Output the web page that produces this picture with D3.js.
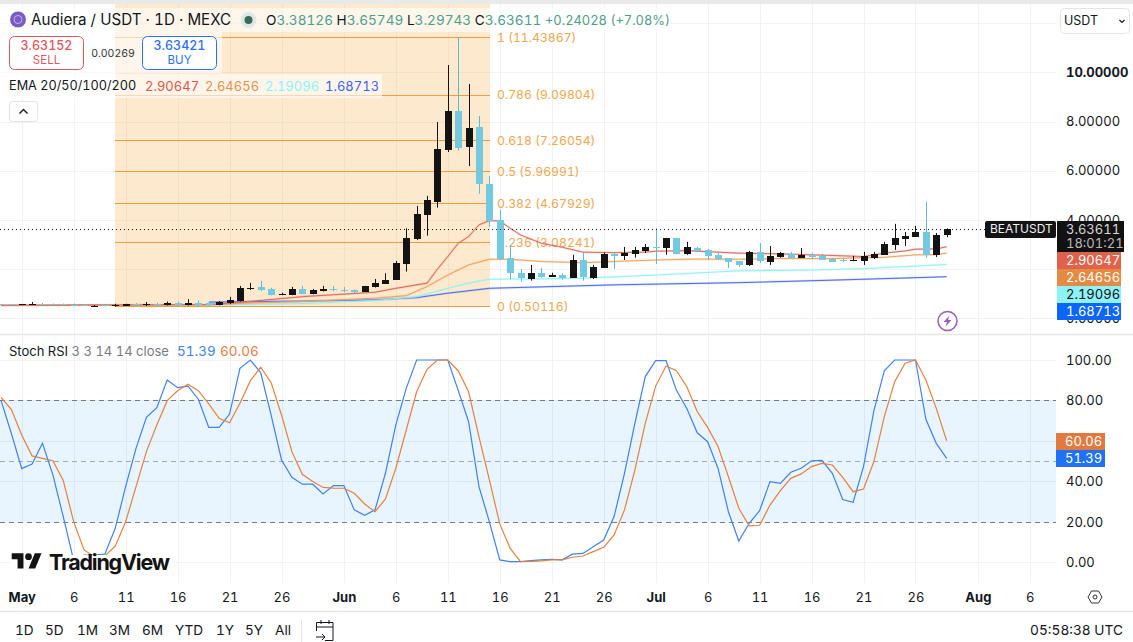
<!DOCTYPE html>
<html><head><meta charset="utf-8">
<script src="https://cdn.jsdelivr.net/npm/d3@7/dist/d3.min.js"></script>
<style>
html,body{margin:0;padding:0;background:#fff;overflow:hidden}
svg{display:block}
text{font-family:Inter,"Noto Sans",sans-serif;font-variant-numeric:tabular-nums}
</style></head><body>
<script>
// ---- data (first candle = 29 Apr) ----
const firstDate = "2025-04-29";
const opens  = [.57,.57,.55,.56,.58,.58,.57,.56,.555,.47,.535,.48,.51,.58,.52,.57,.54,.62,.55,.63,.62,.55,.61,.707,1.24,1.276,1.195,.95,.95,1.195,.99,1.11,1.195,1.154,1.15,1.07,1.27,1.40,1.56,2.21,3.22,4.20,4.73,6.85,8.43,6.98,7.78,5.46,4.0,2.44,1.83,1.60,1.83,1.68,1.76,1.64,2.37,1.66,2.05,2.63,2.54,2.62,2.74,2.88,2.86,3.27,2.62,2.86,2.78,2.58,2.45,2.33,2.17,2.70,2.29,2.50,2.62,2.46,2.58,2.54,2.41,2.37,2.33,2.33,2.46,2.58,2.98,3.22,3.31,3.51,2.58,3.38126];
const highs  = [.58,.58,.58,.66,.62,.60,.60,.60,.57,.54,.55,.59,.59,.62,.66,.64,.68,.68,.78,.72,.70,.70,.87,1.317,1.44,1.52,1.24,1.04,1.276,1.317,1.195,1.317,1.317,1.276,1.17,1.317,1.60,1.83,2.33,3.66,4.57,4.98,7.98,10.30,11.43,9.53,8.23,5.79,4.41,2.98,2.0,2.17,2.04,1.85,1.83,2.58,2.71,2.17,2.67,2.67,2.90,2.90,3.02,3.66,3.27,3.27,3.11,2.90,2.82,2.70,2.45,2.33,2.74,3.06,2.94,2.70,2.70,2.86,2.66,2.62,2.46,2.46,2.54,2.70,2.70,3.11,3.84,3.51,3.76,4.73,3.47,3.65749];
const lows   = [.54,.54,.54,.55,.54,.54,.54,.54,.53,.46,.48,.47,.50,.50,.50,.50,.52,.52,.52,.52,.52,.53,.58,.68,1.15,1.10,.93,.94,.94,.98,.98,1.09,1.10,1.06,1.03,1.07,1.25,1.40,1.56,1.90,3.18,3.36,4.50,6.76,6.82,6.19,5.07,3.72,2.40,1.59,1.49,1.53,1.65,1.68,1.57,1.64,1.53,1.60,2.05,2.01,2.37,2.47,2.66,2.21,2.58,2.60,2.58,2.70,2.37,2.37,2.05,2.09,2.13,2.25,2.17,2.46,2.46,2.46,2.41,2.37,2.29,2.29,2.32,2.17,2.41,2.58,2.78,2.94,3.31,2.46,2.49,3.29743];
const closes = [.55,.55,.57,.575,.55,.55,.555,.55,.54,.50,.48,.54,.58,.52,.57,.52,.62,.55,.62,.56,.55,.667,.748,1.236,1.25,1.14,.95,1.0,1.195,.99,1.154,1.195,1.14,1.11,1.07,1.317,1.44,1.56,2.24,3.26,4.24,4.81,6.89,8.43,6.94,7.74,5.48,3.96,2.40,1.83,1.63,1.83,1.68,1.76,1.64,2.37,1.68,2.09,2.62,2.55,2.67,2.78,2.90,2.86,3.27,2.62,2.90,2.74,2.55,2.41,2.29,2.17,2.70,2.33,2.54,2.66,2.46,2.58,2.50,2.37,2.29,2.33,2.36,2.54,2.62,3.02,3.27,3.35,3.51,2.58,3.39,3.63611];

// EMA lines: day offsets from 1 May and values read at those days
const ema20Days  = [-2,18,21,27,34,36,39,40,41,42,43,44,45,46,47,48,50,52,54,57,60,61,64,66,69,73,76,79,81,83,85,86,88,89];
const ema20Vals  = [.53,.56,.65,.88,1.06,1.22,1.43,2.0,2.51,3.05,3.32,3.80,3.97,3.96,3.66,3.39,3.05,2.89,2.69,2.67,2.69,2.73,2.75,2.71,2.65,2.62,2.58,2.54,2.51,2.65,2.74,2.81,2.82,2.91];
const ema50Days  = [-2,18,21,27,34,37,39,41,43,45,47,50,54,57,61,65,69,73,78,81,83,86,88,89];
const ema50Vals  = [.52,.55,.61,.68,.82,.92,1.29,1.76,2.17,2.40,2.40,2.31,2.26,2.31,2.37,2.41,2.40,2.43,2.43,2.46,2.48,2.58,2.59,2.65];
const ema100Days = [-2,18,27,34,38,41,43,45,50,54,61,69,76,81,89];
const ema100Vals = [.53,.54,.60,.72,.88,1.22,1.43,1.59,1.60,1.63,1.76,1.93,1.96,2.02,2.19];
const ema200Days = [18,27,34,38,41,45,57,69,78,89];
const ema200Vals = [.66,.70,.75,.84,1.02,1.22,1.36,1.45,1.55,1.69];

const stochK = [80.2,63.8,46.3,48.6,58.8,43.2,22.6,1,3.6,3.6,4,16.8,37.4,56.3,71.7,76.4,90.1,86.3,87.1,80.6,66.7,66.7,73.3,95.9,100,93.7,72.8,50.6,42,38.6,38.6,33.8,37.9,37.9,25.9,23.2,25.9,44,67.9,86,100,100,100,100,85,69.5,37.4,20,1.2,.3,.3,.8,1.2,1.5,1.2,4,4.4,7.7,11,22.6,44,68.7,91.8,99.7,99.7,85,76,64,59.6,46.5,25,10.5,19.3,25.5,39.9,39,44.5,46.5,50.2,50.4,44,31,29.7,47.3,75,94.6,100,100,100,70.7,58.8,51.39];
const stochD = [81.5,75.6,62.9,52.6,51.4,50.2,40.4,20.1,6.1,2.8,3.1,8,20,37.4,54.7,67.9,79.9,84.8,88,84.8,78.3,71.2,69,78.6,89.8,96.4,88.8,72.8,54.7,43.5,39.9,37,36.7,36.6,34.1,28.8,25,31.3,46.5,65.4,84.3,95.4,100,100,94.7,84.3,62,40.7,19,6.9,.3,.5,.7,1.2,1.2,2.5,3.1,5.3,7.4,13.5,25.9,45.6,68.7,87.1,97,94.7,86.8,74.5,66.7,57.2,42.3,26.7,18,18.3,28.3,35.4,41.5,43.7,47.3,48.9,48.1,42,34.9,36.2,49.8,72,89.3,98.4,100,90.1,76.1,60.06];

const fibRatios = ["1","0.786","0.618","0.5","0.382","0.236","0"];
const fibLevels = [11.43867,9.09804,7.26054,5.96991,4.67929,3.08241,0.50116];
const priceTicks = [0,2,4,6,8,10,12];
const stochTicks = [0,20,40,60,80,100];
const timeTicks = ["2025-05-01","2025-05-06","2025-05-11","2025-05-16","2025-05-21","2025-05-26","2025-06-01","2025-06-06","2025-06-11","2025-06-16","2025-06-21","2025-06-26","2025-07-01","2025-07-06","2025-07-11","2025-07-16","2025-07-21","2025-07-26","2025-08-01","2025-08-06"];
const ranges = ["1D","5D","1M","3M","6M","YTD","1Y","5Y","All"];
const rangeX = [15,45,77,109,142,175,216,245,275];
const emaLegend = ["2.90647","2.64656","2.19096","1.68713"];
const last = 3.63611;

// ---- layout ----
const W=1133,H=642, plotR=1056, mainTop=4, gridBot=583;
const C={up:"#131313",down:"#72c9e0",wickDown:"#5cb9d8",grid:"#f0f2f6",fib:"#ee9b42",fibText:"#eea74f",
  ema:["#e0695a","#efa35f","#8ef3f8","#4e6df0"],k:"#3f82ee",d:"#e5803f"};
const day=86400000;
const parse=s=>new Date(s+"T00:00:00Z");
const x=d3.scaleUtc().domain([parse("2025-05-01"),parse("2025-08-06")]).range([21.7,1029.8]);
const xDay=n=>x(new Date(parse("2025-05-01").getTime()+n*day));
const xIdx=i=>xDay(i-2);
const y=d3.scaleLinear().domain([0,12]).range([318.3,23.2]);
const yS=d3.scaleLinear().domain([0,100]).range([562.3,360]);
const px=v=>Math.round(v)+.5;

const svg=d3.select("body").append("svg").attr("width",W).attr("height",H).attr("viewBox",`0 0 ${W} ${H}`);
svg.append("rect").attr("width",W).attr("height",H).attr("fill","#fff");
svg.append("rect").attr("width",W).attr("height",4).attr("fill","#e9e9e9");

// grids
const grid=svg.append("g").attr("stroke",C.grid).attr("stroke-width",1);
grid.selectAll(".v").data(timeTicks).join("line").attr("class","v")
  .attr("x1",d=>px(x(parse(d)))).attr("x2",d=>px(x(parse(d)))).attr("y1",mainTop).attr("y2",gridBot);
grid.selectAll(".h").data(priceTicks).join("line").attr("class","h")
  .attr("x1",0).attr("x2",plotR).attr("y1",d=>px(y(d))).attr("y2",d=>px(y(d)));
grid.selectAll(".s").data(stochTicks).join("line").attr("class","s")
  .attr("x1",0).attr("x2",plotR).attr("y1",d=>px(yS(d))).attr("y2",d=>px(yS(d)));

// fib box
const fibL=115,fibR=490;
svg.append("rect").attr("x",fibL).attr("y",mainTop).attr("width",fibR-fibL).attr("height",y(fibLevels[6])-mainTop+.5)
  .attr("fill","#f2a63c").attr("fill-opacity",.25);
const fib=svg.append("g");
fib.selectAll("line").data(fibLevels).join("line").attr("x1",fibL).attr("x2",fibR)
  .attr("y1",d=>px(y(d))).attr("y2",d=>px(y(d))).attr("stroke",C.fib).attr("stroke-width",1);
fib.selectAll("text").data(fibLevels).join("text").attr("x",497).attr("y",d=>y(d)+1.6)
  .attr("dominant-baseline","middle").attr("font-size",12.2).attr("fill",C.fibText)
  .text((d,i)=>`${fibRatios[i]} (${d.toFixed(5)})`);

// EMA lines
function ema(days,vals,color){
  const l=d3.line().x((d,i)=>xDay(days[i])).y(d=>y(d));
  svg.append("path").attr("d",l(vals)).attr("fill","none").attr("stroke",color).attr("stroke-width",2.2).attr("stroke-opacity",.25);
  svg.append("path").attr("d",l(vals)).attr("fill","none").attr("stroke",color).attr("stroke-width",1);
}
ema(ema200Days,ema200Vals,C.ema[3]);
ema(ema100Days,ema100Vals,C.ema[2]);
ema(ema50Days,ema50Vals,C.ema[1]);
ema(ema20Days,ema20Vals,C.ema[0]);

// candles
const cg=svg.append("g");
opens.forEach((o,i)=>{
  const c=closes[i],up=c>=o,cx=Math.round(xIdx(i));
  cg.append("line").attr("x1",cx+.5).attr("x2",cx+.5).attr("y1",y(highs[i])).attr("y2",y(lows[i]))
    .attr("stroke",up?C.up:C.wickDown).attr("stroke-width",1);
  const top=Math.round(Math.min(y(o),y(c))),h=Math.max(1,Math.round(Math.abs(y(o)-y(c))));
  cg.append("rect").attr("x",cx-3).attr("width",7).attr("y",top).attr("height",h).attr("fill",up?C.up:C.down);
});

// last price dotted line
svg.append("line").attr("x1",0).attr("x2",985).attr("y1",px(y(last))).attr("y2",px(y(last)))
  .attr("stroke","#131313").attr("stroke-width",1).attr("stroke-dasharray","1 3");

// lightning icon
const li=svg.append("g").attr("transform","translate(947.5,321)");
li.append("circle").attr("r",9.5).attr("fill","#fff").attr("stroke","#9a5bb8").attr("stroke-width",1.5);
li.append("path").attr("d","M2 -5.5L-4 1H-0.5L-2 5.5L4 -1H0.5Z").attr("fill","#9a5bb8");

// Stoch RSI pane
svg.append("rect").attr("x",0).attr("width",plotR).attr("y",yS(80)).attr("height",yS(20)-yS(80)).attr("fill","#2196f3").attr("fill-opacity",.1);
[[80,"#787b86"],[50,"#a6a8b0"],[20,"#787b86"]].forEach(([v,c])=>{
  svg.append("line").attr("x1",0).attr("x2",plotR).attr("y1",px(yS(v))).attr("y2",px(yS(v)))
    .attr("stroke",c).attr("stroke-dasharray","5 4");
});
const sl=d3.line().x((d,i)=>xIdx(i)).y(d=>yS(d));
svg.append("path").attr("d",sl(stochK)).attr("fill","none").attr("stroke",C.k).attr("stroke-width",1.2);
svg.append("path").attr("d",sl(stochD)).attr("fill","none").attr("stroke",C.d).attr("stroke-width",1.2);

// separators
[334.5,611.5].forEach(v=>svg.append("line").attr("x1",0).attr("x2",W).attr("y1",v).attr("y2",v).attr("stroke","#e6e6e6").attr("stroke-width",1.4));

// axes
const tickStyle=g=>{g.select(".domain").remove();g.selectAll("text").attr("fill","#131722").attr("font-size",13).style("font-family","Inter");g.selectAll("line").remove();};
svg.append("g").attr("transform","translate(1066,0)")
  .call(d3.axisRight(y).tickValues(priceTicks.filter(d=>d<12)).tickSize(0).tickPadding(0).tickFormat(d3.format(".5f"))).call(tickStyle)
  .selectAll("text").attr("font-weight",d=>d===10?700:400);
svg.append("g").attr("transform","translate(1066,0)")
  .call(d3.axisRight(yS).tickValues(stochTicks).tickSize(0).tickPadding(0).tickFormat(d3.format(".2f"))).call(tickStyle);
const monthFmt=d3.utcFormat("%b"),dayFmt=d3.utcFormat("%-d");
svg.append("g").attr("transform","translate(0,593)")
  .call(d3.axisBottom(x).tickValues(timeTicks.map(parse)).tickSize(0).tickPadding(0).tickFormat(d=>d.getUTCDate()===1?monthFmt(d):dayFmt(d))).call(tickStyle)
  .selectAll("text").attr("font-weight",d=>d.getUTCDate()===1?700:400);

// right tags
function tag(xx,yy,w,h,bg,lines,fg){
  svg.append("rect").attr("x",xx).attr("y",yy).attr("width",w).attr("height",h).attr("fill",bg);
  lines.forEach(t=>svg.append("text").attr("x",xx+9).attr("y",yy+h/2+.6).attr("dominant-baseline","middle").attr("font-size",13).attr("fill",fg).text(t));
}
svg.append("rect").attr("x",985).attr("y",221).attr("width",71).attr("height",17).attr("fill","#131313").attr("rx",2);
svg.append("text").attr("x",990).attr("y",230).attr("dominant-baseline","middle").attr("font-size",12).attr("fill","#f0f0f0").text("BEATUSDT");
tag(1057,221,67,31,"#111",[],"#ddd");
svg.append("text").attr("x",1066).attr("y",230).attr("dominant-baseline","middle").attr("font-size",13).attr("fill","#d6d6d6").text(last.toFixed(5));
svg.append("text").attr("x",1066).attr("y",244).attr("dominant-baseline","middle").attr("font-size",13).attr("fill","#b8b8b8").text("18:01:21");
tag(1057,252,64,17,"#e0624a",[emaLegend[0]],"#fff");
tag(1057,269,64,17,"#e58a43",[emaLegend[1]],"#fff");
tag(1057,286,64,17,"#8ef3f8",[emaLegend[2]],"#111");
tag(1057,303,64,17,"#0a66ff",[emaLegend[3]],"#fff");
tag(1056,433,49,17,"#e07a40",["60.06"],"#fff");
tag(1056,450,49,17,"#1f72f5",["51.39"],"#fff");

// legend backgrounds
const lb=svg.append("g").attr("fill","#fff").attr("fill-opacity",.6);
lb.append("rect").attr("x",0).attr("y",8).attr("width",670).attr("height",24);
lb.append("rect").attr("x",0).attr("y",32).attr("width",222).attr("height",41);
lb.append("rect").attr("x",0).attr("y",74).attr("width",382).attr("height",24);

// title
svg.append("circle").attr("cx",18).attr("cy",19.5).attr("r",8).attr("fill","#7b5cc4");
svg.append("circle").attr("cx",18).attr("cy",19.5).attr("r",4).attr("fill","none").attr("stroke","#c4b5ee").attr("stroke-width",1);
svg.append("text").attr("x",31).attr("y",21).attr("dominant-baseline","middle").attr("font-size",15.2).attr("fill","#131722").text("Audiera / USDT · 1D · MEXC");
svg.append("circle").attr("cx",248.5).attr("cy",20).attr("r",8).attr("fill","#dfe9e3");
svg.append("circle").attr("cx",248.5).attr("cy",20).attr("r",4).attr("fill","#3b6b5c");
const ohlc=svg.append("text").attr("x",266).attr("y",21).attr("dominant-baseline","middle").attr("font-size",13.6);
[["O","#131722"],["3.38126 ","#4f9e8b"],["H","#131722"],["3.65749 ","#4f9e8b"],["L","#131722"],["3.29743 ","#4f9e8b"],["C","#131722"],["3.63611 ","#4f9e8b"]]
  .forEach(([t,c])=>ohlc.append("tspan").attr("fill",c).text(t));
ohlc.append("tspan").attr("fill","#4f9e8b").attr("font-size",12.9).text("+0.24028 (+7.08%)");

// buy/sell
function btn(xx,col,val,lab){
  svg.append("rect").attr("x",xx+.5).attr("y",36.5).attr("width",74).attr("height",33).attr("rx",5).attr("fill","#fff").attr("stroke",col);
  svg.append("text").attr("x",xx+37.5).attr("y",46.5).attr("text-anchor","middle").attr("dominant-baseline","middle").attr("font-size",12.5).attr("font-weight",500).attr("fill",col).text(val);
  svg.append("text").attr("x",xx+37.5).attr("y",60.5).attr("text-anchor","middle").attr("dominant-baseline","middle").attr("font-size",11.5).attr("fill",col).text(lab);
}
btn(9,"#e0575f","3.63152","SELL");
btn(142,"#2d6ff5","3.63421","BUY");
svg.append("text").attr("x",113).attr("y",54).attr("text-anchor","middle").attr("dominant-baseline","middle").attr("font-size",10.5).attr("fill","#333").text("0.00269");

// EMA legend
svg.append("text").attr("x",9).attr("y",87).attr("dominant-baseline","middle").attr("font-size",12.7).attr("fill","#131722").text("EMA 20/50/100/200");
const emaLegCols=["#e0574a","#ef8d46","#8ef3f8","#3f63f0"],emaLegX=[145,205,265,325];
emaLegend.forEach((t,i)=>svg.append("text").attr("x",emaLegX[i]).attr("y",87).attr("dominant-baseline","middle").attr("font-size",13).attr("fill",emaLegCols[i]).text(t));
svg.append("rect").attr("x",9.5).attr("y",101.5).attr("width",28).attr("height",20).attr("rx",3).attr("fill","#fff").attr("stroke","#e0e3eb");
svg.append("path").attr("d","M19.5 113.5l4 -4l4 4").attr("fill","none").attr("stroke","#131722").attr("stroke-width",1.4);

// stoch legend
const sleg=svg.append("text").attr("x",9).attr("y",352).attr("dominant-baseline","middle").attr("font-size",13);
sleg.append("tspan").attr("fill","#131722").text("Stoch RSI ");
sleg.append("tspan").attr("fill","#787b86").text("3 3 14 14 close");
svg.append("text").attr("x",177).attr("y",352).attr("dominant-baseline","middle").attr("font-size",13.5).attr("fill","#3f82ee").text("51.39");
svg.append("text").attr("x",220).attr("y",352).attr("dominant-baseline","middle").attr("font-size",13.5).attr("fill","#e5803f").text("60.06");

// TradingView logo
svg.append("rect").attr("x",10).attr("y",555).attr("width",162).attr("height",20).attr("fill","#fff");
svg.append("g").attr("transform","translate(11.7,550) scale(.84)").attr("fill","#131313")
  .call(g=>{g.append("path").attr("d","M14 22H7V11H0V4h14v18zM28 22h-8l7.5-18h8L28 22z");g.append("circle").attr("cx",20).attr("cy",8).attr("r",4);});
svg.append("text").attr("x",49).attr("y",569.5).attr("font-size",21.5).attr("font-weight",700).attr("fill","#131313").attr("textLength",121).text("TradingView");

// hexagon icon
svg.append("path").attr("d","M1088 597l3.5-6h7l3.5 6l-3.5 6h-7z").attr("fill","none").attr("stroke","#333").attr("stroke-width",1);
svg.append("circle").attr("cx",1095).attr("cy",597).attr("r",2).attr("fill","none").attr("stroke","#333");

// bottom bar
ranges.forEach((t,i)=>svg.append("text").attr("x",rangeX[i]).attr("y",631.5).attr("dominant-baseline","middle").attr("font-size",13.6).attr("fill","#131722").text(t));
svg.append("line").attr("x1",301.5).attr("x2",301.5).attr("y1",620).attr("y2",642).attr("stroke","#e0e3eb");
const cal=svg.append("g").attr("fill","none").attr("stroke","#131722").attr("stroke-width",1);
cal.append("path").attr("d","M316.5 631v-8.5h16.5v18h-8M316.5 627h16.5M321 620v4M329 620v4M316 637h9M322 634l3 3l-3 3");
svg.append("text").attr("x",1123).attr("y",631.5).attr("text-anchor","end").attr("dominant-baseline","middle").attr("font-size",13.7).attr("fill","#131722").text("05:58:38 UTC");

// USDT selector
svg.append("rect").attr("x",1060.5).attr("y",8.5).attr("width",69).attr("height",25).attr("rx",4).attr("fill","#fff").attr("stroke","#e4e4e4");
svg.append("text").attr("x",1064).attr("y",21.5).attr("dominant-baseline","middle").attr("font-size",12.5).attr("fill","#131722").text("USDT");
svg.append("path").attr("d","M1119.5 20l2.5 2.5l2.5-2.5").attr("fill","none").attr("stroke","#131722").attr("stroke-width",1.2);
</script>
</body></html>
